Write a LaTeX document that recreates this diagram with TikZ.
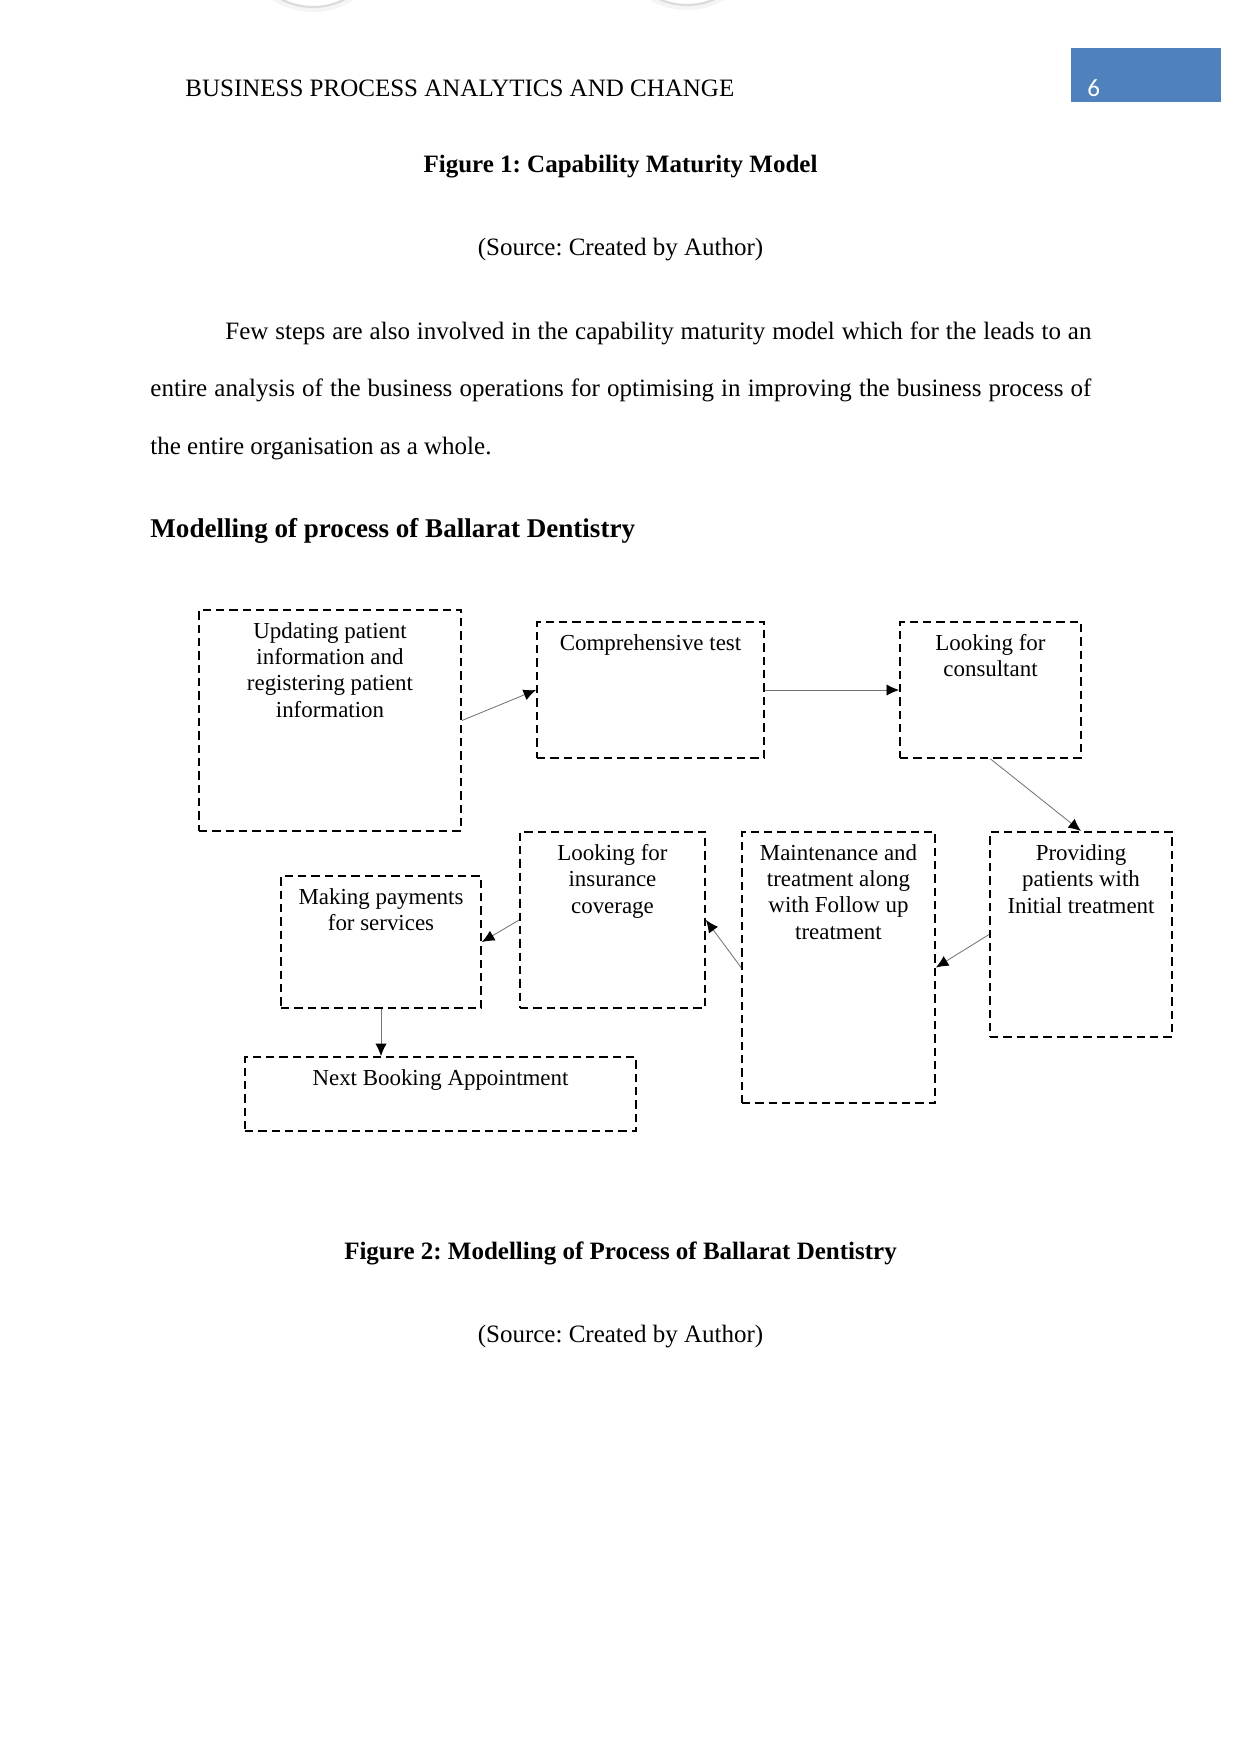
\documentclass[tikz,border=0pt]{standalone}
\usepackage{fontspec}
\setmainfont{Liberation Serif}
\newfontfamily\pagenumfont{Carlito}
\usetikzlibrary{arrows.meta}
\usepackage{xcolor}
\definecolor{hdrblue}{HTML}{4F81BD}
\frenchspacing

\begin{document}
\begin{tikzpicture}[x=0.48pt, y=-0.48pt, >=Latex,
  stepbox/.style={rectangle, draw, line width=0.9pt, dash pattern=on 4pt off 2.4pt, inner sep=0pt},
  boxtext/.style={anchor=north, align=center, inner sep=0pt, yshift=-6.3pt, font=\fontsize{11pt}{12.6pt}\selectfont},
  edge/.style={-{Latex[length=6pt, width=5.4pt, color=black]}, line width=0.4pt, draw=black!55},
  body/.style={inner sep=0pt, font=\fontsize{12pt}{14pt}\selectfont},
  heading/.style={body, font=\fontsize{12pt}{14pt}\selectfont\bfseries}
]
\useasboundingbox (0,0) rectangle (1241,1754);
% faint buttons cut off at the top edge
\draw[gray!8, line width=3pt] (313,-62) circle [radius=71];
\draw[gray!28, line width=1pt] (313,-62) circle [radius=69];
\draw[gray!8, line width=3pt] (687,-64) circle [radius=71];
\draw[gray!28, line width=1pt] (687,-64) circle [radius=69];
% running head
\node[body, anchor=base west] (head) at (185,96) {BUSINESS PROCESS ANALYTICS AND CHANGE};
\node[fill=hdrblue, minimum width=72pt, minimum height=25.9pt, inner sep=0pt] (pgbox) at (1146,75) {};
\node[anchor=base west, inner sep=0pt, text=white, font=\pagenumfont\fontsize{12pt}{14pt}\selectfont] (pgno) at (1087,96) {6};
% text above the figure
\node[heading, anchor=base] (cap1) at (620.5,172) {Figure 1: Capability Maturity Model};
\node[body, anchor=base] (src1) at (620.5,255) {(Source: Created by Author)};
\node[body, anchor=north west, text width=451.7pt, align=justify, font=\fontsize{12pt}{27.6pt}\selectfont] (para) at (150,321)
  {\hspace*{36pt}Few steps are also involved in the capability maturity model which for the leads to an\linebreak
   entire analysis of the business operations for optimising in improving the business process of\linebreak
   the entire organisation as a whole.};
\node[heading, anchor=base west, font=\fontsize{13pt}{15pt}\selectfont\bfseries] (sec) at (150,537) {Modelling of process of Ballarat Dentistry};
% process boxes
\node[stepbox, minimum width=125.8pt, minimum height=106.1pt, label={[boxtext]north:{Updating patient\\information and\\registering patient\\information}}] (upd) at (330,720.5) {};
\node[stepbox, minimum width=109pt, minimum height=65.3pt, label={[boxtext]north:{Comprehensive test}}] (comp) at (650.5,690) {};
\node[stepbox, minimum width=86.9pt, minimum height=65.3pt, label={[boxtext]north:{Looking for\\consultant}}] (cons) at (990.5,690) {};
\node[stepbox, minimum width=87.4pt, minimum height=98.4pt, label={[boxtext]north:{Providing\\patients with\\Initial treatment}}] (prov) at (1081,934.5) {};
\node[stepbox, minimum width=92.6pt, minimum height=130.1pt, label={[boxtext]north:{Maintenance and\\treatment along\\with Follow up\\treatment}}] (maint) at (838.5,967.5) {};
\node[stepbox, minimum width=88.8pt, minimum height=84.5pt, label={[boxtext]north:{Looking for\\insurance\\coverage}}] (ins) at (612.5,920) {};
\node[stepbox, minimum width=96pt, minimum height=63.4pt, label={[boxtext]north:{Making payments\\for services}}] (pay) at (381,942) {};
\node[stepbox, minimum width=187.7pt, minimum height=35.5pt, label={[boxtext]north:{Next Booking Appointment}}] (book) at (440.5,1094) {};
\draw[edge] (upd.east) -- (comp.west);
\draw[edge] (comp.east) -- (cons.west);
\draw[edge] (cons.south) -- (prov.north);
\draw[edge] (prov.west) -- (maint.east);
\draw[edge] (maint.west) -- (ins.east);
\draw[edge] (ins.west) -- (pay.east);
\draw[edge] (pay.south) -- (pay.south |- book.north);
% text below the figure
\node[heading, anchor=base] (cap2) at (620.5,1259) {Figure 2: Modelling of Process of Ballarat Dentistry};
\node[body, anchor=base] (src2) at (620.5,1342) {(Source: Created by Author)};
\end{tikzpicture}
\end{document}
